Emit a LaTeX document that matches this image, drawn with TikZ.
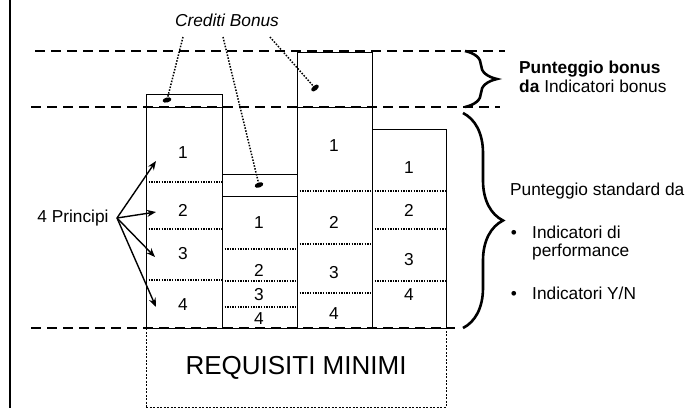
\documentclass[tikz,border=0pt]{standalone}
\usepackage{fontspec}
\setmainfont{Liberation Sans}
\usetikzlibrary{arrows.meta,decorations.pathreplacing,shapes.geometric}

\begin{document}
\begin{tikzpicture}[x=1pt,y=-1pt,
  font=\fontsize{17.3}{20}\selectfont,
  level/.style={line width=2.5pt,dash pattern=on 10pt off 6pt},
  bar/.style={line width=0.8pt},
  split/.style={line width=1.3pt,dash pattern=on 1.3pt off 1.3pt},
  pointer/.style={line width=1.5pt,dash pattern=on 1.5pt off 1.5pt},
  bonusdot/.style={fill,ellipse,inner sep=0pt,minimum width=9pt,minimum height=5pt},
  fan/.style={line width=1.4pt,-{Stealth[length=9pt,width=7pt]}},
  curly/.style={line width=2.6pt,decorate,decoration={brace,amplitude=#1}},
  num/.style={inner sep=0pt},
  txt/.style={anchor=base west,inner sep=0pt}]
% frame of the page
\useasboundingbox (0,0) rectangle (688,408);
\draw[line width=2pt] (10,0)
 --(10,408);
% column 1
\draw[bar] (146,94) rectangle (222,107);
\draw[bar] (146,107) rectangle (222,328);
\draw[split] (146,182) --(222,182);
\draw[split] (146,229) --(222,229);
\draw[split] (146,280) --(222,280);
\node[num] (c1a) at (183,153) {1};
\node[num] (c1b) at (183,210) {2};
\node[num] (c1c) at (183,254) {3};
\node[num] (c1d) at (183,305) {4};
% column 2
\draw[bar] (222,174) rectangle (297,196);
\draw[bar] (222,196) rectangle (297,328);
\draw[split] (222,249) --(297,249);
\draw[split] (222,281) --(297,281);
\draw[split] (222,307) --(297,307);
\node[num] (c2a) at (259,223) {1};
\node[num] (c2b) at (259,270) {2};
\node[num] (c2c) at (259,295) {3};
\node[num] (c2d) at (259,319) {4};
% column 3
\draw[bar] (297,52) rectangle (372,107);
\draw[bar] (297,107) rectangle (372,328);
\draw[split] (297,191) --(372,191);
\draw[split] (297,244) --(372,244);
\draw[split] (297,293) --(372,293);
\node[num] (c3a) at (334,146) {1};
\node[num] (c3b) at (334,222) {2};
\node[num] (c3c) at (334,273) {3};
\node[num] (c3d) at (334,314) {4};
% column 4
\draw[bar] (372,129) rectangle (446,328);
\draw[split] (372,191) --(446,191);
\draw[split] (372,229) --(446,229);
\draw[split] (372,281) --(446,281);
\node[num] (c4a) at (409,168) {1};
\node[num] (c4b) at (409,210) {2};
\node[num] (c4c) at (409,260) {3};
\node[num] (c4d) at (409,295) {4};
% minimum requirements
\node[draw,line width=0.8pt,dash pattern=on 2pt off 1.5pt,minimum width=300pt,
  minimum height=79pt,font=\fontsize{26}{30}\selectfont] (minreq) at (296,367.5) {REQUISITI MINIMI};
% level lines
\draw[level] (35,51) --(505,51);
\draw[level] (31,107) --(500,107);
\draw[level] (31,328) --(455,328);
% bonus credits
\node[font=\fontsize{17.3}{20}\selectfont\itshape] (credits) at (227,20) {Crediti Bonus};
\coordinate (cb1) at (183,37);
\coordinate (cb2) at (223,37);
\coordinate (cb3) at (270,37);
\node[bonusdot,rotate=15] (dot1) at (167,100) {};
\node[bonusdot,rotate=20] (dot2) at (259,185) {};
\node[bonusdot,rotate=40] (dot3) at (315,88) {};
\draw[pointer] (cb1) --(dot1);
\draw[pointer] (cb2) --(dot2);
\draw[pointer] (cb3) --(dot3);
% principles
\node (princ) at (73,218) {4 Principi};
\coordinate (root) at (117,218);
\coordinate (t1) at (156,161);
\coordinate (t2) at (156,212);
\coordinate (t3) at (155,257);
\coordinate (t4) at (156,307);
\draw[fan] (root) --(t1);
\draw[fan] (root) --(t2);
\draw[fan] (root) --(t3);
\draw[fan] (root) --(t4);
% braces
\draw[curly=32pt] (465,51) --(465,107);
\draw[curly=40pt] (463,113) --(463,328);
\node[txt] (bonusa) at (519,73) {\textbf{Punteggio bonus}};
\node[txt] (bonusb) at (519,92) {\textbf{da} Indicatori bonus};
\node[txt] (stdtxt) at (510,195) {Punteggio standard da};
\node[anchor=base,inner sep=0pt] (bul1) at (514,238) {•};
\node[txt] (perfa) at (532,238) {Indicatori di};
\node[txt] (perfb) at (532,256) {performance};
\node[anchor=base,inner sep=0pt] (bul2) at (514,299) {•};
\node[txt] (yn) at (532,299) {Indicatori Y/N};
\end{tikzpicture}
\end{document}
